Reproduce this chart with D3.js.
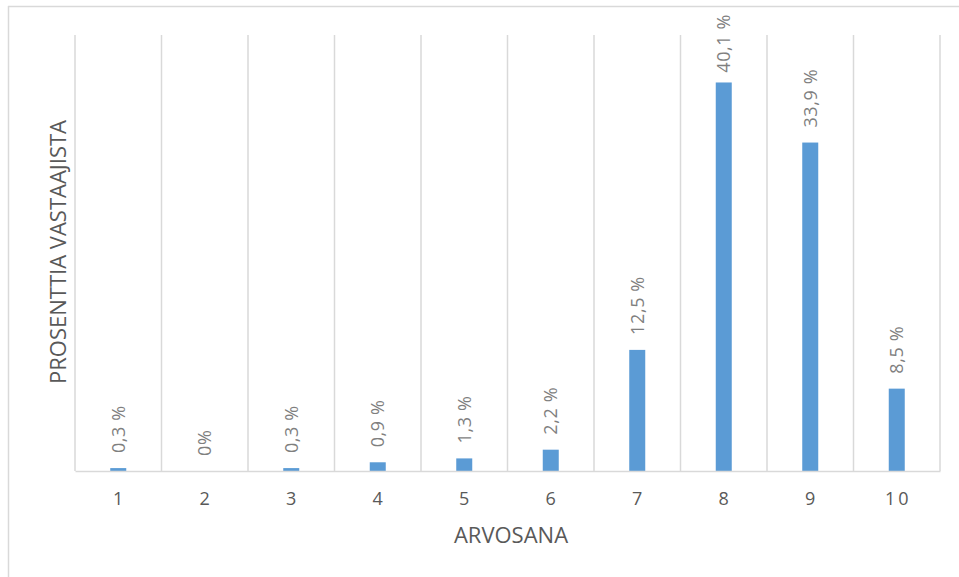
<!DOCTYPE html>
<html>
<head>
<meta charset="utf-8">
<script src="https://cdn.jsdelivr.net/npm/d3@7/dist/d3.min.js"></script>
<style>
  html, body { margin: 0; padding: 0; background: #fff; }
  svg { display: block; font-family: "Open Sans", "Noto Sans", sans-serif; }
</style>
</head>
<body>
<svg id="chart" width="959" height="577"></svg>
<script>
// Survey results: share of respondents per grade
const grades = ["1", "2", "3", "4", "5", "6", "7", "8", "9", "10"];
const shares = [0.3, 0, 0.3, 0.9, 1.3, 2.2, 12.5, 40.1, 33.9, 8.5];
const valueLabels = ["0,3 %", "0%", "0,3 %", "0,9 %", "1,3 %", "2,2 %", "12,5 %", "40,1 %", "33,9 %", "8,5 %"];
const yMax = 45;

const svg = d3.select("#chart");
const plot = { left: 75, right: 940, top: 35, bottom: 471 };

// chart frame
svg.append("line").attr("x1", 8.5).attr("x2", 8.5).attr("y1", 6).attr("y2", 577)
  .attr("stroke", "#d9d9d9").attr("stroke-width", 1.5);
svg.append("line").attr("x1", 8).attr("x2", 959).attr("y1", 6.5).attr("y2", 6.5)
  .attr("stroke", "#d9d9d9").attr("stroke-width", 1.5);

const x = d3.scaleBand().domain(grades).range([plot.left, plot.right]).paddingInner(0).paddingOuter(0);
const y = d3.scaleLinear().domain([0, yMax]).range([plot.bottom, plot.top]);

// vertical gridlines at category boundaries
const bounds = grades.map(g => x(g)).concat([plot.right]);
svg.append("g").selectAll("line").data(bounds).join("line")
  .attr("x1", d => d).attr("x2", d => d)
  .attr("y1", plot.top).attr("y2", plot.bottom)
  .attr("stroke", "#d9d9d9").attr("stroke-width", 1.5);

// bars
const barW = 16;
svg.append("g").selectAll("rect").data(grades).join("rect")
  .attr("x", (d) => x(d) + x.bandwidth() / 2 - barW / 2)
  .attr("y", (d, i) => y(shares[i]))
  .attr("width", barW)
  .attr("height", (d, i) => plot.bottom - y(shares[i]))
  .attr("fill", "#5b9bd5");

// x axis
const xAxis = d3.axisBottom(x).tickSize(0).tickPadding(21);
const gx = svg.append("g").attr("transform", `translate(0,${plot.bottom})`).call(xAxis);
gx.select(".domain").attr("stroke", "#d9d9d9").attr("stroke-width", 1.5);
gx.selectAll("text").attr("font-size", 18).attr("fill", "#595959")
  .attr("letter-spacing", "3px").attr("dx", "1.5px")
  .attr("font-family", "'Open Sans', sans-serif");

// value labels, rotated
const labels = svg.append("g").selectAll("text").data(grades).join("text")
  .attr("font-size", 18).attr("fill", "#7f7f7f")
  .attr("letter-spacing", "0.6px")
  .attr("text-anchor", "start")
  .attr("dy", "0.35em")
  .text((d, i) => valueLabels[i]);
labels.each(function (d, i) {
  const len = this.getComputedTextLength();
  let start = y(shares[i]) - 15;
  if (start - len < 14) start = 14 + len;
  d3.select(this).attr("transform", `translate(${x(d) + x.bandwidth() / 2},${start}) rotate(-90)`);
});

// axis titles
svg.append("text").attr("x", 511).attr("y", 543).attr("text-anchor", "middle")
  .attr("font-size", 22).attr("fill", "#595959").text("ARVOSANA");
svg.append("text").attr("transform", "translate(66,252) rotate(-90)").attr("text-anchor", "middle")
  .attr("font-size", 22).attr("fill", "#595959").text("PROSENTTIA VASTAAJISTA");
</script>
</body>
</html>
